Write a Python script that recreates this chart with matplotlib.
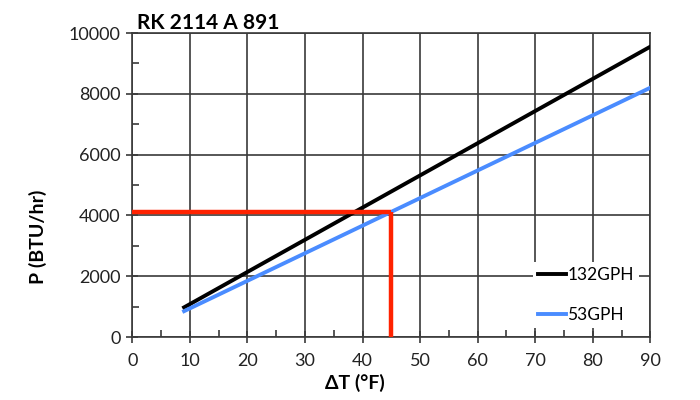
import matplotlib.pyplot as plt
from matplotlib.ticker import MultipleLocator

plt.rcParams['font.family'] = ['Lato', 'DejaVu Sans']

# data
delta_t = [9, 90]
p_132gph = [975, 9550]
p_53gph = [850, 8200]
labels = ['132GPH', '53GPH']
colors = ['#000000', '#4a8cff']

# operating point marker (red)
op_t = 45
op_p = 4100

fig = plt.figure(figsize=(7, 4), dpi=100)
ax = fig.add_axes([0.189, 0.1575, 0.74, 0.76])

ax.plot(delta_t, p_132gph, color=colors[0], lw=2.8, label=labels[0], zorder=3)
ax.plot(delta_t, p_53gph, color=colors[1], lw=2.8, label=labels[1], zorder=3)

ax.plot([0, op_t], [op_p, op_p], color='#ff2200', lw=3.2, zorder=4, solid_capstyle='butt')
ax.plot([op_t, op_t], [op_p, 0], color='#ff2200', lw=3.2, zorder=4, solid_capstyle='butt')

ax.set_xlim(0, 90)
ax.set_ylim(0, 10000)
ax.xaxis.set_major_locator(MultipleLocator(10))
ax.xaxis.set_minor_locator(MultipleLocator(5))
ax.yaxis.set_major_locator(MultipleLocator(2000))
ax.yaxis.set_minor_locator(MultipleLocator(1000))

ax.grid(which='major', color='#3a3a3a', lw=1.2, zorder=1)
for s in ax.spines.values():
    s.set_color('#3a3a3a')
    s.set_linewidth(1.2)

ax.tick_params(which='major', direction='inout', length=9, width=1.2, color='#3a3a3a',
               labelsize=13, labelcolor='#222222', pad=4)
ax.tick_params(which='minor', direction='in', length=5, width=1.2, color='#3a3a3a')
ax.tick_params(axis='x', which='major', pad=7)

ax.set_xlabel('ΔT (°F)', fontsize=14, fontweight='bold')
ax.xaxis.set_label_coords(0.43, -0.12)
ax.set_ylabel('P (BTU/hr)', fontsize=14, fontweight='bold')
ax.yaxis.set_label_coords(-0.165, 0.33)

ax.set_title('RK 2114 A 891', loc='left', fontsize=15, fontweight='bold', pad=3, x=0.01)

leg = ax.legend(loc='lower right', bbox_to_anchor=(0.995, 0.0), frameon=True,
                fontsize=12.5, handlelength=1.6, handletextpad=0.1, labelspacing=1.4,
                borderpad=0.3, fancybox=False)
leg.get_frame().set_edgecolor('none')
leg.get_frame().set_facecolor('white')
leg.get_frame().set_alpha(1)
leg.set_zorder(5)

fig.savefig('out.png', dpi=100)
